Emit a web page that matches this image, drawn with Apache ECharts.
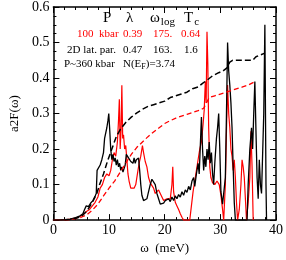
<!DOCTYPE html>
<html><head><meta charset="utf-8">
<script src="https://cdn.jsdelivr.net/npm/echarts@6/dist/echarts.min.js"></script>
<style>html,body{margin:0;padding:0;background:#fff}#c{width:286px;height:260px}</style>
</head><body><div id="c"></div>
<script>
const xTicks = [0, 10, 20, 30, 40];
const yTicks = [0, 0.1, 0.2, 0.3, 0.4, 0.5, 0.6];

const blackSolid = [[0,0],[1,0],[2,0.001],[3,0.003],[4,0.007],[4.8,0.012],[5.3,0.018],[5.6,0.03],[5.9,0.04],[6.3,0.038],[6.7,0.048],[7.1,0.055],[7.5,0.068],[7.7,0.075],[7.85,0.14],[8.1,0.145],[8.4,0.155],[8.7,0.17],[9.0,0.19],[9.2,0.23],[9.4,0.235],[9.6,0.26],[9.8,0.28],[9.95,0.30],[10.1,0.26],[10.3,0.2],[10.5,0.17],[10.7,0.185],[10.9,0.165],[11.1,0.175],[11.3,0.155],[11.5,0.17],[11.7,0.15],[11.9,0.16],[12.1,0.14],[12.3,0.15],[12.5,0.135],[12.7,0.14],[12.9,0.155],[13.1,0.185],[13.3,0.19],[13.5,0.175],[13.7,0.18],[13.9,0.165],[14.1,0.17],[14.3,0.16],[14.5,0.175],[14.7,0.16],[14.9,0.17],[15.1,0.165],[15.3,0.175],[15.5,0.14],[15.7,0.1],[15.9,0.07],[16.2,0.055],[16.5,0.05],[16.8,0.06],[17.1,0.08],[17.4,0.1],[17.7,0.115],[18.0,0.11],[18.3,0.1],[18.6,0.075],[18.9,0.06],[19.2,0.045],[19.5,0.04],[19.8,0.048],[20.1,0.055],[20.4,0.05],[20.7,0.06],[21.0,0.052],[21.3,0.065],[21.6,0.055],[21.9,0.068],[22.2,0.06],[22.5,0.072],[22.8,0.065],[23.1,0.08],[23.4,0.07],[23.7,0.085],[24.0,0.078],[24.3,0.095],[24.6,0.085],[24.9,0.11],[25.2,0.12],[25.4,0.095],[25.7,0.13],[26.0,0.16],[26.2,0.13],[26.5,0.25],[26.6,0.29],[26.8,0.2],[27.0,0.14],[27.2,0.18],[27.4,0.15],[27.6,0.2],[27.8,0.17],[28.0,0.22],[28.2,0.16],[28.4,0.19],[28.6,0.13],[28.8,0.1],[29.0,0.16],[29.3,0.23],[29.5,0.26],[29.7,0.30],[29.9,0.2],[30.1,0.08],[30.4,0.045],[30.7,0.05],[30.9,0.12],[31.1,0.3],[31.3,0.50],[31.5,0.42],[31.7,0.38],[31.9,0.33],[32.1,0.26],[32.3,0.15],[32.5,0.05],[32.7,0],[34.8,0],[35.0,0.1],[35.3,0.2],[35.6,0.26],[35.8,0.2],[36.0,0.3],[36.2,0.39],[36.4,0.25],[36.6,0.12],[36.8,0.06],[37.0,0.17],[37.2,0.1],[37.4,0.075],[37.6,0.07],[37.8,0.3],[38.0,0.55],[38.2,0.1],[38.3,0]];

const redSolid = [[0,0],[2,0.001],[3,0.003],[4,0.006],[5,0.012],[5.5,0.018],[6,0.025],[6.5,0.03],[7,0.04],[7.5,0.05],[8,0.065],[8.4,0.09],[8.8,0.1],[9.2,0.12],[9.6,0.13],[10,0.125],[10.3,0.14],[10.6,0.17],[10.9,0.19],[11.2,0.18],[11.5,0.22],[11.7,0.28],[11.85,0.34],[12.0,0.2],[12.15,0.25],[12.3,0.38],[12.45,0.23],[12.6,0.24],[12.8,0.2],[13.0,0.21],[13.2,0.17],[13.4,0.13],[13.6,0.11],[13.9,0.09],[14.2,0.085],[14.5,0.09],[14.8,0.1],[15.1,0.13],[15.4,0.16],[15.7,0.18],[16.0,0.21],[16.2,0.19],[16.5,0.165],[16.8,0.15],[17.1,0.12],[17.4,0.105],[17.7,0.11],[18.0,0.09],[18.3,0.075],[18.6,0.07],[18.9,0.085],[19.2,0.08],[19.5,0.065],[19.8,0.055],[20.1,0.05],[20.4,0.06],[20.7,0.055],[21.0,0.06],[21.3,0.1],[21.45,0.15],[21.6,0.08],[21.9,0.05],[22.2,0.04],[22.5,0.03],[22.8,0.018],[23.1,0.008],[23.4,0],[24.5,0],[24.8,0.04],[25.1,0.08],[25.4,0.11],[25.7,0.14],[26.0,0.17],[26.3,0.2],[26.6,0.22],[26.9,0.27],[27.1,0.31],[27.3,0.39],[27.45,0.33],[27.6,0.53],[27.75,0.44],[27.9,0.26],[28.1,0.15],[28.3,0.12],[28.6,0.105],[29.0,0.1],[29.4,0.11],[29.8,0.1],[30.1,0.07],[30.4,0.03],[30.6,0],[30.9,0.1],[31.1,0.25],[31.3,0.38],[31.5,0.3],[31.7,0.26],[31.9,0.2],[32.1,0.18],[32.3,0.14],[32.5,0.17],[32.7,0.12],[32.9,0.05],[33.1,0],[33.4,0.03],[33.7,0.1],[33.9,0.17],[34.1,0.15],[34.3,0.12],[34.5,0.06],[34.7,0],[35.0,0.05],[35.3,0.12],[35.5,0.25],[35.7,0.15],[35.9,0]];

const blackDashed = [[2,0],[3,0.002],[4,0.005],[5,0.01],[6,0.025],[7,0.05],[7.8,0.075],[8.3,0.1],[9.0,0.13],[9.7,0.165],[10.5,0.2],[11.3,0.235],[12,0.255],[13,0.275],[14,0.29],[15,0.302],[16,0.312],[17,0.32],[18,0.325],[19,0.33],[20,0.335],[21,0.345],[22,0.35],[23,0.355],[24,0.36],[25,0.37],[26,0.375],[26.8,0.385],[27.7,0.395],[28.5,0.405],[29.7,0.415],[30.5,0.42],[31.3,0.43],[31.7,0.445],[32.2,0.45],[34,0.45],[35.8,0.45],[36.4,0.46],[38,0.47]];

const redDashed = [[2,0],[3,0.001],[4,0.004],[5,0.008],[6,0.015],[7,0.028],[8,0.045],[9,0.068],[10,0.09],[11,0.11],[12,0.135],[13,0.16],[14,0.185],[15,0.205],[16,0.22],[17,0.235],[18,0.248],[19,0.26],[20,0.272],[21,0.28],[22,0.287],[23,0.293],[24,0.298],[25,0.303],[26,0.308],[27,0.315],[27.5,0.33],[28,0.345],[29,0.35],[30,0.355],[31,0.36],[32,0.365],[33,0.37],[34,0.375],[35,0.38],[36.2,0.39]];

const FONT = 'Liberation Serif';
const chart = echarts.init(document.getElementById('c'), null, {renderer: 'canvas'});

const axisCommon = {
  type: 'value',
  axisLine: {show: true, onZero: false, lineStyle: {color: '#000', width: 1.5}},
  axisTick: {show: true, inside: true, length: 6, lineStyle: {color: '#000', width: 1}},
  minorTick: {show: true, length: 3, lineStyle: {color: '#000', width: 1}},
  splitLine: {show: false},
  minorSplitLine: {show: false}
};

const txt = (x, y, text, color, size) => ({
  type: 'text', left: x, top: y,
  style: {text: text, fill: color, fontFamily: FONT, fontSize: size || 11}
});
const sub = (x, y, main, s, size, subSize, pad) => ({
  type: 'text', left: x, top: y,
  style: {
    text: '{a|' + main + '}{b|' + s + '}', fill: '#000',
    rich: {a: {fontFamily: FONT, fontSize: size, fill: '#000'},
           b: {fontFamily: FONT, fontSize: subSize, fill: '#000', padding: [pad, 0, 0, 1]}}
  }
});

chart.setOption({
  animation: false,
  grid: {left: 34, right: 8, top: 5, bottom: 27},
  xAxis: [
    Object.assign({}, axisCommon, {
      min: xTicks[0], max: xTicks[xTicks.length - 1], interval: 10,
      minorTick: Object.assign({}, axisCommon.minorTick, {splitNumber: 5}),
      axisLabel: {color: '#000', fontFamily: FONT, fontSize: 14, margin: 3},
      name: 'ω  (meV)', nameLocation: 'middle', nameGap: 16,
      nameTextStyle: {color: '#000', fontFamily: FONT, fontSize: 13}
    }),
    Object.assign({}, axisCommon, {
      position: 'top', min: xTicks[0], max: xTicks[xTicks.length - 1], interval: 10,
      minorTick: Object.assign({}, axisCommon.minorTick, {splitNumber: 5}),
      axisLabel: {show: false}
    })
  ],
  yAxis: [
    Object.assign({}, axisCommon, {
      min: yTicks[0], max: yTicks[yTicks.length - 1], interval: 0.1,
      minorTick: Object.assign({}, axisCommon.minorTick, {splitNumber: 4}),
      axisLabel: {color: '#000', fontFamily: FONT, fontSize: 14, margin: 4,
        formatter: v => String(Math.round(v * 10) / 10)},
      name: 'a2F(ω)', nameLocation: 'middle', nameGap: 26, nameRotate: 90,
      nameTextStyle: {color: '#000', fontFamily: FONT, fontSize: 13}
    }),
    Object.assign({}, axisCommon, {
      position: 'right', min: yTicks[0], max: yTicks[yTicks.length - 1], interval: 0.1,
      minorTick: Object.assign({}, axisCommon.minorTick, {splitNumber: 4}),
      axisLabel: {show: false}
    })
  ],
  series: [
    {type: 'line', data: redSolid, showSymbol: false, lineStyle: {color: '#ff0000', width: 1.2}, z: 2},
    {type: 'line', data: blackSolid, showSymbol: false, lineStyle: {color: '#000', width: 1.3}, z: 3},
    {type: 'line', data: redDashed, showSymbol: false, lineStyle: {color: '#ff0000', width: 1.3, type: [5, 3]}, z: 4},
    {type: 'line', data: blackDashed, showSymbol: false, lineStyle: {color: '#000', width: 1.5, type: [6, 3]}, z: 5}
  ],
  graphic: [
    txt(103, 11, 'P', '#000', 15),
    txt(126, 11, 'λ', '#000', 15),
    sub(150, 11, 'ω', 'log', 15, 11, 8),
    sub(184, 11, 'T', 'c', 15, 11, 8),
    txt(77, 29, '100  kbar', '#ff0000'),
    txt(123, 29, '0.39', '#ff0000'),
    txt(153, 29, '175.', '#ff0000'),
    txt(181, 29, '0.64', '#ff0000'),
    txt(67, 45, '2D lat. par.', '#000'),
    txt(123, 45, '0.47', '#000'),
    txt(153, 45, '163.', '#000'),
    txt(184, 45, '1.6', '#000'),
    txt(64, 59, 'P~360 kbar', '#000'),
    {type: 'text', left: 123, top: 59, style: {
      text: '{a|N(E}{b|F}{a|)=3.74}', fill: '#000',
      rich: {a: {fontFamily: FONT, fontSize: 11, fill: '#000'}, b: {fontFamily: FONT, fontSize: 8, fill: '#000', padding: [5, 0, 0, 0]}}
    }}
  ]
});
</script></body></html>
